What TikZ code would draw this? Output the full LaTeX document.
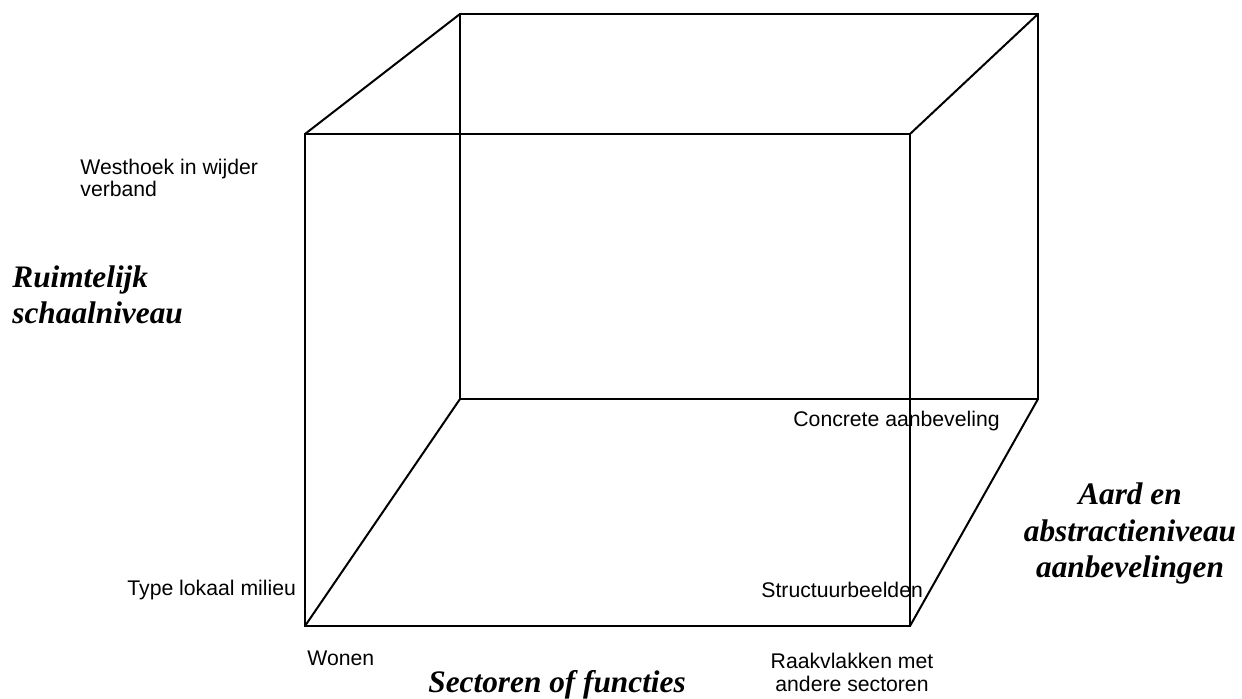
\documentclass[tikz,border=0pt]{standalone}
\usepackage{fontspec}
\setmainfont{Liberation Serif}
\newfontfamily\labelfont{Liberation Sans}
\begin{document}
\begin{tikzpicture}[x=0.5pt,y=-0.5pt,
  edge/.style={line width=1pt,line join=miter},
  pole/.style={font=\labelfont\fontsize{10.6}{11.1}\selectfont,inner sep=0pt,align=left},
  axisname/.style={font=\fontsize{15.65}{18.3}\selectfont\bfseries\itshape,inner sep=0pt}]
  \useasboundingbox[fill=white] (0,0) rectangle (1242,699);

  % back face corners
  \coordinate (btl) at (460,14);
  \coordinate (btr) at (1038,14);
  \coordinate (bbr) at (1038,399);
  \coordinate (bbl) at (460,399);
  % front face corners
  \coordinate (ftl) at (305,134);
  \coordinate (ftr) at (910,134);
  \coordinate (fbr) at (910,626);
  \coordinate (fbl) at (305,626);

  % wire-frame box
  \draw[edge] (btl) -- (btr) -- (bbr) -- (bbl) -- cycle;
  \draw[edge] (ftl) -- (ftr) -- (fbr) -- (fbl) -- cycle;
  \draw[edge] (ftl) -- (btl);
  \draw[edge] (ftr) -- (btr);
  \draw[edge] (fbr) -- (bbr);
  \draw[edge] (fbl) -- (bbl);

  % corner labels (multi-line nodes sit on the baseline of their last line)
  \node[pole,anchor=base west] (westhoek) at (80,197) {Westhoek in wijder\\verband};
  \node[pole,anchor=base west] (lokaal) at (127,596) {Type lokaal milieu};
  \node[pole,anchor=base west] (wonen) at (307,665) {Wonen};
  \node[pole,anchor=base west] (concreet) at (793,427) {Concrete aanbeveling};
  \node[pole,anchor=base west] (structuur) at (761,597) {Structuurbeelden};
  \node[pole,align=center,anchor=base] (raakvlak) at (852,691) {Raakvlakken met\\andere sectoren};

  % axis names
  \node[axisname,align=left,anchor=base west] (schaal) at (12,324) {Ruimtelijk\\schaalniveau};
  \node[axisname,anchor=base west] (sectoren) at (428,692) {Sectoren of functies};
  \node[axisname,align=center,anchor=base] (aard) at (1130,578) {Aard en\\abstractieniveau\\aanbevelingen};
\end{tikzpicture}
\end{document}
